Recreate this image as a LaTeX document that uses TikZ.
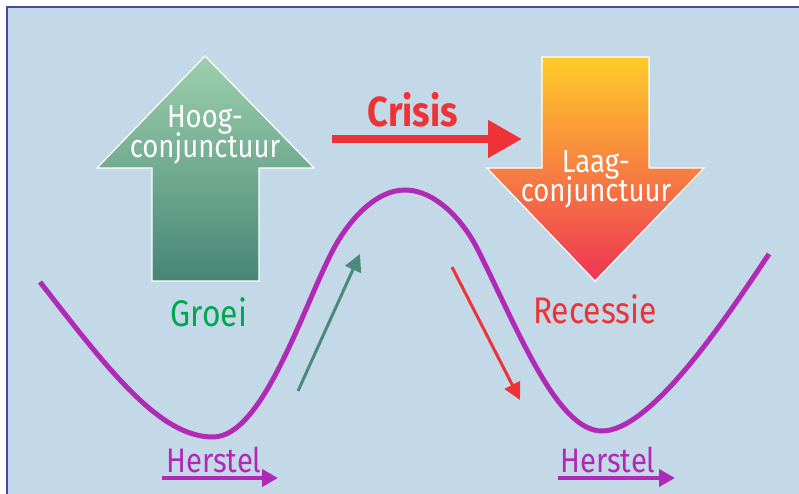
\documentclass[tikz,border=0pt]{standalone}
\usepackage{fontspec}
\setmainfont[FakeStretch=0.86]{Fira Sans}
\usetikzlibrary{arrows.meta}
\definecolor{bgblue}{HTML}{C3D9E7}
\definecolor{frameblue}{HTML}{4A4AA0}
\definecolor{gtop}{HTML}{9DD0AC}
\definecolor{gbot}{HTML}{468676}
\definecolor{otop}{HTML}{FFCC29}
\definecolor{omid}{HTML}{F6883D}
\definecolor{obot}{HTML}{EE3556}
\definecolor{crisisred}{HTML}{EE3338}
\definecolor{curvepurple}{HTML}{B02AB5}
\definecolor{tealarrow}{HTML}{4B8A7B}
\definecolor{groeigreen}{HTML}{00A651}
\tikzset{
  whitelbl/.style={text=white, anchor=base, inner sep=0pt, font=\fontsize{32}{32}\selectfont},
  biglbl/.style={anchor=base, inner sep=0pt, font=\fontsize{37}{37}\selectfont},
  herstellbl/.style={anchor=base, inner sep=0pt, text=curvepurple, font=\fontsize{34}{34}\selectfont},
  herstelarrow/.style={draw=curvepurple, line width=4pt, -{Triangle[length=16pt,width=17pt]}},
  thinarrow/.style={line width=3pt, -{Triangle[length=17pt,width=17pt]}},
  bigoutline/.style={draw=white, line width=1.2pt}
}
\begin{document}
\begin{tikzpicture}[x=1pt,y=-1pt]
\useasboundingbox (0,0) rectangle (799,494);
% background and frame
\fill[white] (0,0) rectangle (799,494);
\fill[bgblue] (7,7) rectangle (799,494);
\draw[frameblue, line width=2pt] (7,494) -- (7,7) -- (799,7);

% business cycle curve
\draw[curvepurple, line width=5pt]
  (40,282) .. controls (110,372) and (160,437) .. (213,437)
           .. controls (263,437) and (303,307) .. (333,250)
           .. controls (348,221.5) and (375,190) .. (405,190)
           .. controls (435,190) and (463,220) .. (478,250)
           .. controls (518,330) and (557,431) .. (602,431)
           .. controls (652,431) and (729,313.6) .. (769,254);

% green up arrow
\path[shade, top color=gtop, bottom color=gbot]
  (205,56) -- (314,168) -- (259,168) -- (259,281) -- (152,281) -- (152,168) -- (97,168) -- cycle;
\draw[bigoutline]
  (205,56) -- (314,168) -- (259,168) -- (259,281) -- (152,281) -- (152,168) -- (97,168) -- cycle;
\node[whitelbl] (hoog1) at (205,128) {Hoog-};
\node[whitelbl] (hoog2) at (205,158) {conjunctuur};

% orange down arrow
\path[shade, top color=otop, middle color=omid, bottom color=obot]
  (542,57) -- (649,57) -- (649,168) -- (704,168) -- (595,281) -- (487,168) -- (542,168) -- cycle;
\draw[bigoutline]
  (542,57) -- (649,57) -- (649,168) -- (704,168) -- (595,281) -- (487,168) -- (542,168) -- cycle;
\node[whitelbl] (laag1) at (596,173) {Laag-};
\node[whitelbl] (laag2) at (596,202) {conjunctuur};

% crisis arrow
\node[anchor=base, inner sep=0pt, text=crisisred, font=\fontsize{42}{42}\selectfont\bfseries] (crisis) at (413,127) {Crisis};
\coordinate (crisisA) at (332,139);
\coordinate (crisisB) at (522,139);
\draw[crisisred, line width=8pt, -{Triangle[length=34pt,width=36pt]}] (crisisA) -- (crisisB);

% labels
\node[biglbl, text=groeigreen] (groei) at (209,326) {Groei};
\node[biglbl, text=crisisred] (recessie) at (595,323) {Recessie};

% small arrows along the curve
\coordinate (upA) at (298,391);
\coordinate (upB) at (360,254);
\draw[thinarrow, tealarrow] (upA) -- (upB);
\coordinate (downA) at (452,267);
\coordinate (downB) at (520,400);
\draw[thinarrow, crisisred] (downA) -- (downB);

% herstel
\node[herstellbl] (herstel1) at (214,472) {Herstel};
\coordinate (h1A) at (162,478);
\coordinate (h1B) at (278,478);
\draw[herstelarrow] (h1A) -- (h1B);
\node[herstellbl] (herstel2) at (608,472) {Herstel};
\coordinate (h2A) at (558,478);
\coordinate (h2B) at (675,478);
\draw[herstelarrow] (h2A) -- (h2B);
\end{tikzpicture}
\end{document}
